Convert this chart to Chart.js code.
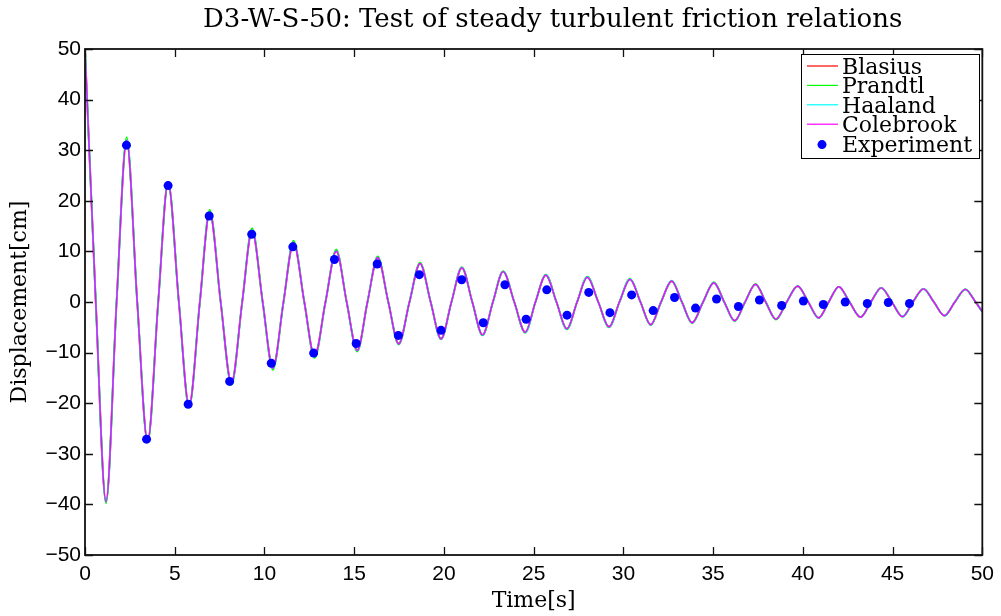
<!DOCTYPE html>
<html>
<head>
<meta charset="utf-8">
<title>D3-W-S-50</title>
<script src="https://cdn.jsdelivr.net/npm/chart.js@4/dist/chart.umd.min.js"></script>
<style>
  html, body { margin: 0; padding: 0; background: #fff; }
  #wrap { width: 1001px; height: 616px; }
</style>
</head>
<body>
<div id="wrap"><canvas id="chart" width="1001" height="616"></canvas></div>
<script>
// simulated curves, read at each extremum and zero crossing
const simTime = [
  0, 0.60, 1.17, 1.76, 2.32, 2.91, 3.49, 4.08, 4.63, 5.23,
  5.80, 6.40, 6.95, 7.56, 8.16, 8.76, 9.31, 9.90, 10.47, 11.06,
  11.62, 12.22, 12.79, 13.40, 14.00, 14.58, 15.17, 15.74, 16.31, 16.90,
  17.48, 18.08, 18.67, 19.26, 19.84, 20.42, 21.00, 21.58, 22.15, 22.73,
  23.30, 23.92, 24.53, 25.10, 25.68, 26.27, 26.85, 27.42, 27.99, 28.60,
  29.20, 29.78, 30.37, 30.95, 31.52, 32.10, 32.69, 33.26, 33.83, 34.44,
  35.04, 35.62, 36.20, 36.78, 37.36, 37.93, 38.50, 39.10, 39.71, 40.30,
  40.88, 41.44, 42.00, 42.60, 43.21, 43.79, 44.37, 44.96, 45.55, 46.13,
  46.72, 47.30, 47.89, 48.47, 49.05, 49.62, 50.00
];
const blasius = [
  50, 0, -39.4, 0, 31.9, 0, -27.5, 0, 23.5, 0,
  -20.5, 0, 17.7, 0, -16.0, 0, 14.1, 0, -13.0, 0,
  11.7, 0, -10.7, 0, 10.0, 0, -9.5, 0, 8.7, 0,
  -8.2, 0, 7.6, 0, -7.2, 0, 6.7, 0, -6.5, 0,
  6.0, 0, -5.9, 0, 5.3, 0, -5.3, 0, 4.9, 0,
  -4.9, 0, 4.5, 0, -4.5, 0, 4.1, 0, -4.1, 0,
  3.8, 0, -3.7, 0, 3.5, 0, -3.4, 0, 3.1, 0,
  -3.1, 0, 3.0, 0, -3.0, 0, 2.8, 0, -2.9, 0,
  2.6, 0, -2.7, 0, 2.5, 0, -1.9
];
const prandtl = [
  50, 0, -39.8, 0, 32.6, 0, -27.8, 0, 23.8, 0,
  -20.8, 0, 18.2, 0, -16.4, 0, 14.6, 0, -13.4, 0,
  12.1, 0, -11.1, 0, 10.4, 0, -9.8, 0, 9.0, 0,
  -8.4, 0, 7.8, 0, -7.4, 0, 6.9, 0, -6.6, 0,
  6.1, 0, -6.1, 0, 5.4, 0, -5.4, 0, 5.0, 0,
  -5.0, 0, 4.6, 0, -4.6, 0, 4.2, 0, -4.2, 0,
  3.9, 0, -3.8, 0, 3.6, 0, -3.5, 0, 3.2, 0,
  -3.2, 0, 3.0, 0, -3.0, 0, 2.8, 0, -2.9, 0,
  2.6, 0, -2.7, 0, 2.5, 0, -1.9
];
const haaland = [
  50, 0, -39.5, 0, 32.0, 0, -27.6, 0, 23.6, 0,
  -20.6, 0, 17.8, 0, -16.1, 0, 14.2, 0, -13.1, 0,
  11.8, 0, -10.8, 0, 10.1, 0, -9.6, 0, 8.8, 0,
  -8.3, 0, 7.6, 0, -7.3, 0, 6.8, 0, -6.5, 0,
  6.0, 0, -6.0, 0, 5.3, 0, -5.3, 0, 4.9, 0,
  -4.9, 0, 4.5, 0, -4.5, 0, 4.15, 0, -4.1, 0,
  3.8, 0, -3.7, 0, 3.5, 0, -3.4, 0, 3.15, 0,
  -3.15, 0, 3.0, 0, -3.0, 0, 2.8, 0, -2.9, 0,
  2.6, 0, -2.7, 0, 2.5, 0, -1.9
];
const colebrook = [
  50, 0, -39.5, 0, 32.0, 0, -27.6, 0, 23.6, 0,
  -20.6, 0, 17.8, 0, -16.1, 0, 14.2, 0, -13.1, 0,
  11.8, 0, -10.8, 0, 10.1, 0, -9.6, 0, 8.8, 0,
  -8.3, 0, 7.6, 0, -7.3, 0, 6.8, 0, -6.5, 0,
  6.0, 0, -6.0, 0, 5.3, 0, -5.3, 0, 4.9, 0,
  -4.9, 0, 4.5, 0, -4.5, 0, 4.15, 0, -4.1, 0,
  3.8, 0, -3.7, 0, 3.5, 0, -3.4, 0, 3.15, 0,
  -3.15, 0, 3.0, 0, -3.0, 0, 2.8, 0, -2.9, 0,
  2.6, 0, -2.7, 0, 2.5, 0, -1.9
];

// measured points
const expTime = [
  2.31, 3.43, 4.63, 5.75, 6.92, 8.06, 9.29, 10.38, 11.58, 12.74,
  13.90, 15.11, 16.28, 17.46, 18.63, 19.84, 20.99, 22.19, 23.40, 24.58,
  25.73, 26.86, 28.07, 29.25, 30.46, 31.66, 32.85, 34.02, 35.19, 36.41,
  37.58, 38.82, 40.03, 41.14, 42.36, 43.59, 44.76, 45.94
];
const expDisp = [
  31.0, -27.1, 23.0, -20.2, 17.0, -15.7, 13.4, -12.1, 10.9, -10.1,
  8.4, -8.2, 7.5, -6.6, 5.4, -5.6, 4.4, -4.1, 3.4, -3.4,
  2.4, -2.6, 1.9, -2.1, 1.4, -1.7, 0.9, -1.2, 0.6, -0.9,
  0.4, -0.7, 0.2, -0.5, 0.0, -0.3, -0.1, -0.3
];

const xTicks = [0, 5, 10, 15, 20, 25, 30, 35, 40, 45, 50];
const yTicks = [-50, -40, -30, -20, -10, 0, 10, 20, 30, 40, 50];

const seriesNames = ['Blasius', 'Prandtl', 'Haaland', 'Colebrook', 'Experiment'];
const seriesColors = ['#ff0000', '#00ff00', '#00ffff', '#ff00ff', '#0000ff'];

const serif = "'DejaVu Serif', serif";
const sans = "'Liberation Sans', Arial, sans-serif";

function pts(xs, ys) {
  return xs.map((x, i) => ({ x: x, y: ys[i] }));
}

function simSet(i, values, width, order) {
  return {
    label: seriesNames[i],
    data: pts(simTime, values),
    borderColor: seriesColors[i],
    backgroundColor: seriesColors[i],
    borderWidth: width,
    pointRadius: 0,
    cubicInterpolationMode: 'monotone',
    fill: false,
    order: order
  };
}

// box, inward ticks and the legend, drawn over the plot like MATLAB does
const framePlugin = {
  id: 'frame',
  afterLayout(chart) {
    // shift the title centre a little right of the canvas centre
    const tb = chart.titleBlock;
    if (tb) {
      tb.left = chart.chartArea.left;
      tb.right = chart.chartArea.right + 38;
    }
  },
  afterDraw(chart) {
    const ctx = chart.ctx;
    const a = chart.chartArea;
    const xs = chart.scales.x, ys = chart.scales.y;
    const tl = 8;
    ctx.save();
    ctx.strokeStyle = '#111';
    ctx.lineWidth = 1.3;
    ctx.beginPath();
    xTicks.forEach(v => {
      const px = Math.round(xs.getPixelForValue(v)) + 0.5;
      ctx.moveTo(px, a.bottom); ctx.lineTo(px, a.bottom - tl);
      ctx.moveTo(px, a.top); ctx.lineTo(px, a.top + tl);
    });
    yTicks.forEach(v => {
      const py = Math.round(ys.getPixelForValue(v)) + 0.5;
      ctx.moveTo(a.left, py); ctx.lineTo(a.left + tl, py);
      ctx.moveTo(a.right, py); ctx.lineTo(a.right - tl, py);
    });
    ctx.stroke();
    ctx.lineWidth = 1.8;
    ctx.strokeRect(a.left, a.top, a.right - a.left, a.bottom - a.top);

    // legend
    const lx = 801, ly = 54, lw = 178, lh = 104;
    ctx.fillStyle = '#fff';
    ctx.fillRect(lx, ly, lw, lh);
    ctx.strokeStyle = '#000';
    ctx.lineWidth = 1;
    ctx.strokeRect(lx + 0.5, ly + 0.5, lw, lh);
    ctx.font = '22px ' + serif;
    ctx.textBaseline = 'alphabetic';
    ctx.textAlign = 'left';
    seriesNames.forEach((name, i) => {
      const base = 74 + i * 19.4;
      const cy = base - 8;
      if (i < 4) {
        ctx.strokeStyle = seriesColors[i];
        ctx.lineWidth = 1.2;
        ctx.beginPath();
        ctx.moveTo(807, cy); ctx.lineTo(838, cy);
        ctx.stroke();
      } else {
        ctx.fillStyle = seriesColors[i];
        ctx.beginPath();
        ctx.arc(822, cy + 1, 4.5, 0, Math.PI * 2);
        ctx.fill();
      }
      ctx.fillStyle = '#000';
      ctx.fillText(name, 842, base);
    });
    ctx.restore();
  }
};

new Chart(document.getElementById('chart'), {
  type: 'line',
  data: {
    datasets: [
      simSet(0, blasius, 1.8, 4),
      simSet(1, prandtl, 1.8, 3),
      simSet(2, haaland, 1.8, 2),
      simSet(3, colebrook, 1.4, 1),
      {
        label: seriesNames[4],
        data: pts(expTime, expDisp),
        showLine: false,
        pointRadius: 4.5,
        pointBorderWidth: 0,
        pointBackgroundColor: seriesColors[4],
        pointBorderColor: seriesColors[4],
        order: 0
      }
    ]
  },
  options: {
    responsive: false,
    animation: false,
    events: [],
    layout: { padding: { left: 0, right: 17, top: 0, bottom: 0 } },
    plugins: {
      legend: { display: false },
      tooltip: { enabled: false },
      title: {
        display: true,
        text: 'D3-W-S-50: Test of steady turbulent friction relations',
        color: '#000',
        font: { family: serif, size: 26, weight: 'normal', lineHeight: 1.2 },
        padding: { top: 5, bottom: 12.8 }
      }
    },
    scales: {
      x: {
        type: 'linear',
        min: 0,
        max: 50,
        afterBuildTicks: s => { s.ticks = xTicks.map(v => ({ value: v })); },
        afterFit: s => { s.height = 61; },
        grid: { display: false, drawTicks: false },
        border: { display: false },
        ticks: {
          color: '#000',
          padding: 7,
          maxRotation: 0,
          font: { family: sans, size: 21 },
          callback: v => String(v)
        },
        title: {
          display: true,
          text: 'Time[s]',
          color: '#000',
          font: { family: serif, size: 22, lineHeight: 1.2 },
          padding: { top: 0, bottom: 2 }
        }
      },
      y: {
        type: 'linear',
        min: -50,
        max: 50,
        afterBuildTicks: s => { s.ticks = yTicks.map(v => ({ value: v })); },
        afterFit: s => { s.width = 85; },
        grid: { display: false, drawTicks: false },
        border: { display: false },
        ticks: {
          color: '#000',
          padding: 4,
          font: { family: sans, size: 21 },
          callback: v => (v < 0 ? '\u2212' + Math.abs(v) : String(v))
        },
        title: {
          display: true,
          text: 'Displacement[cm]',
          color: '#000',
          font: { family: serif, size: 22, lineHeight: 1.2 },
          padding: { top: 7, bottom: 0 }
        }
      }
    }
  },
  plugins: [framePlugin]
});
</script>
</body>
</html>
